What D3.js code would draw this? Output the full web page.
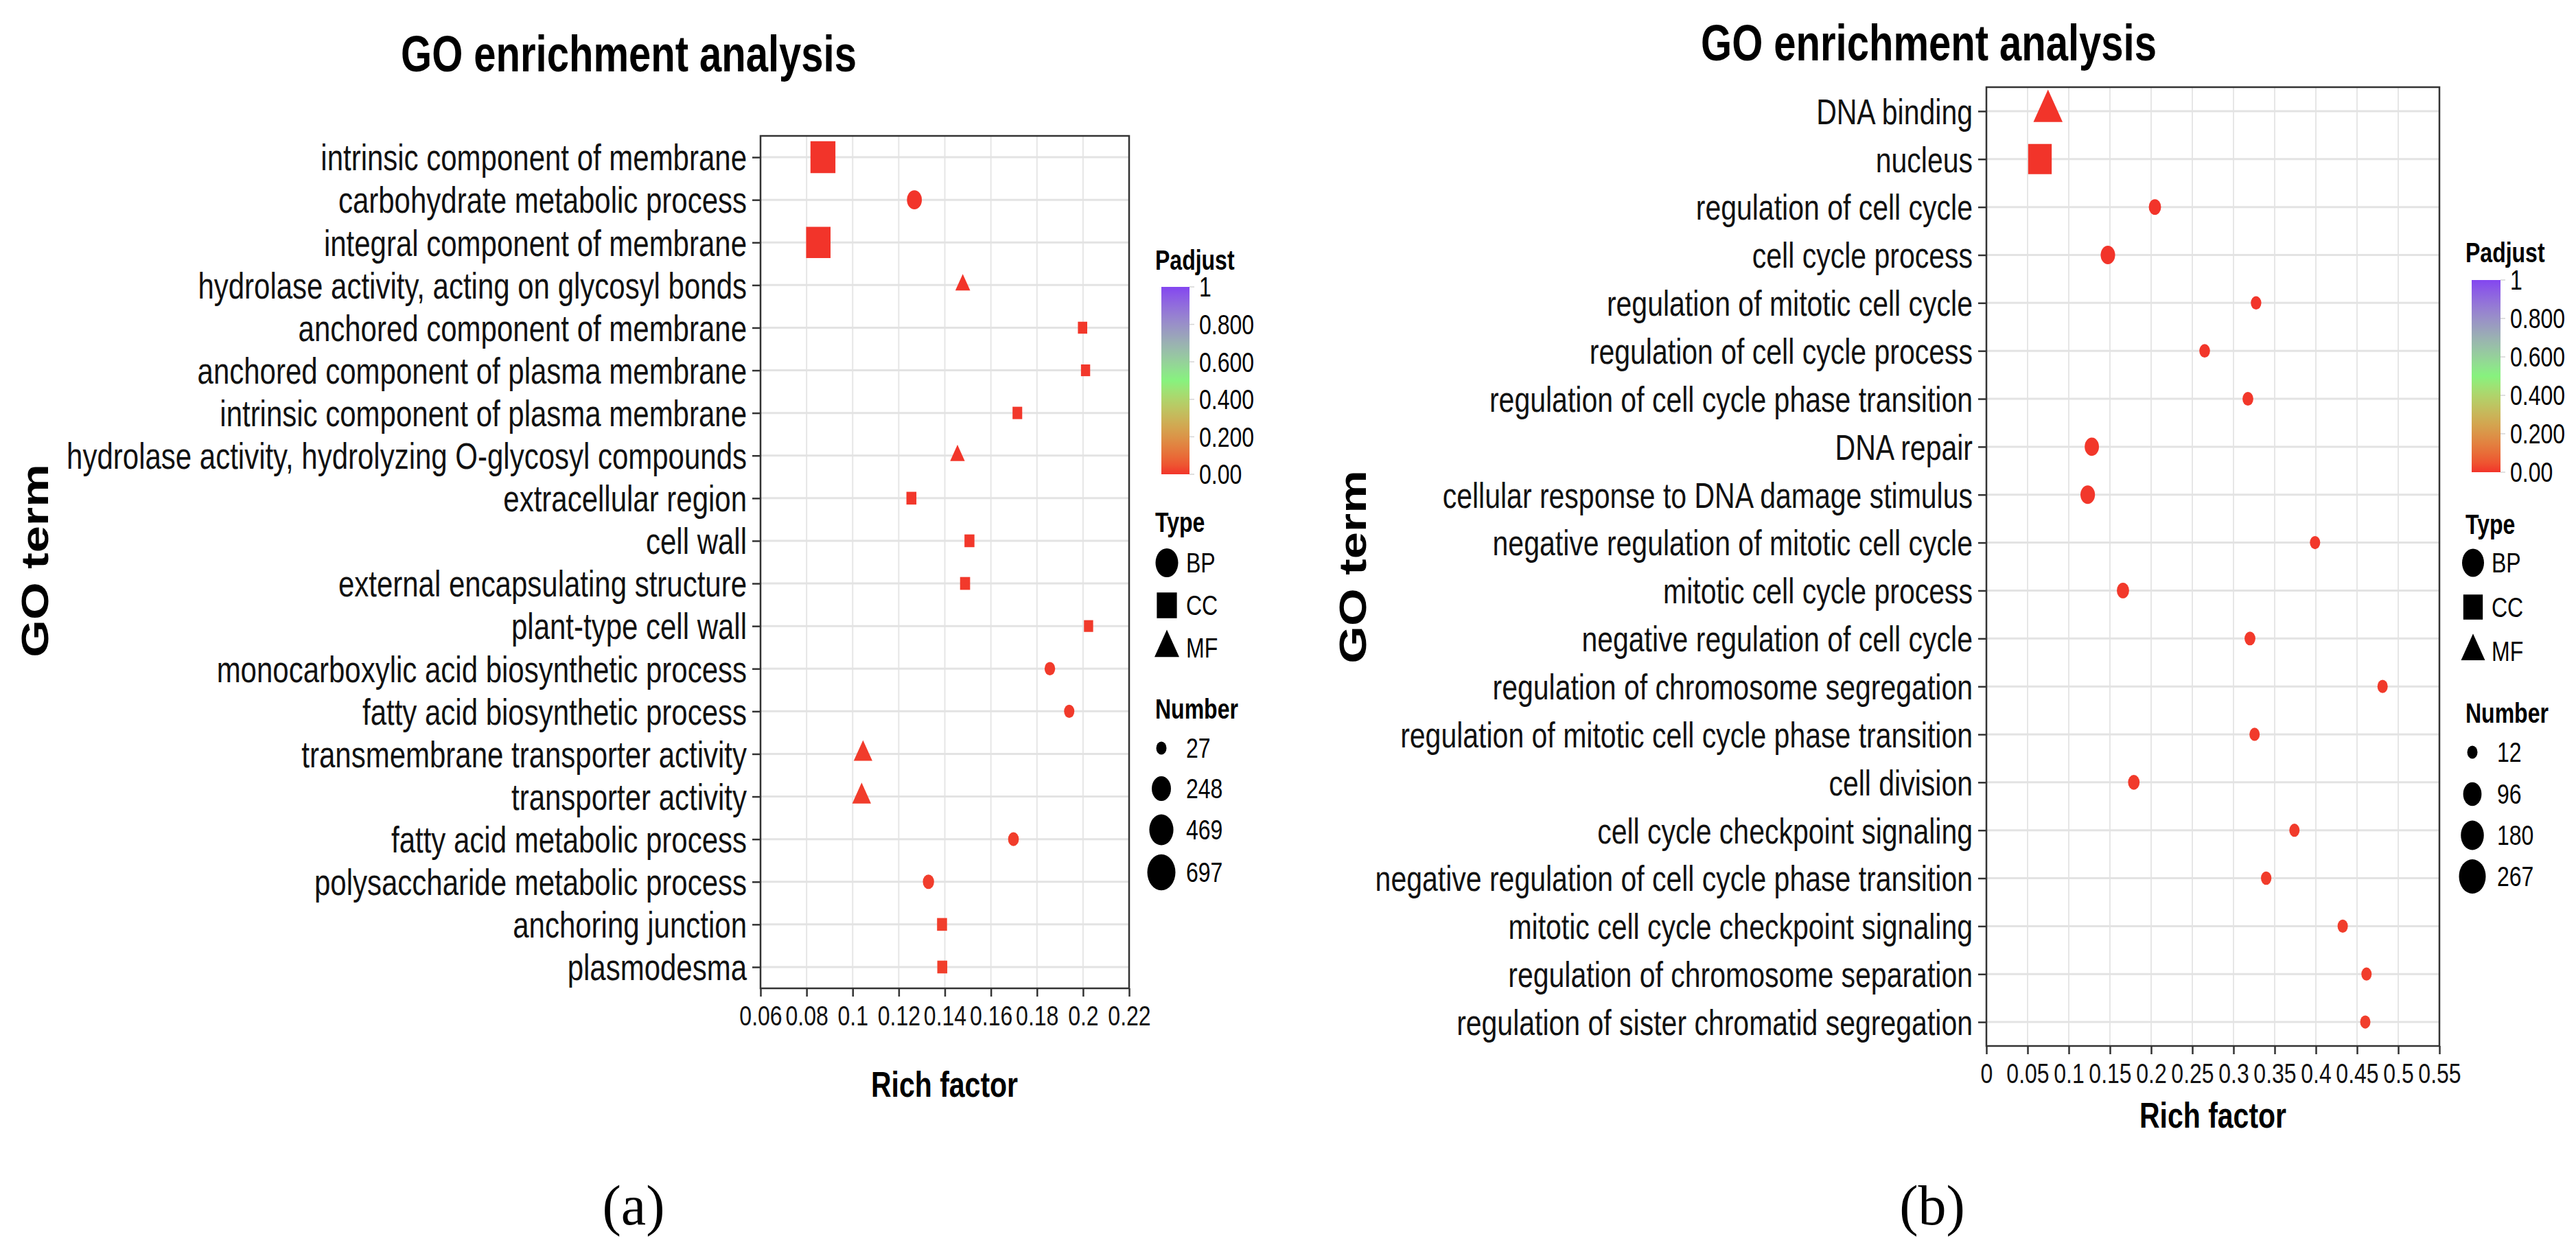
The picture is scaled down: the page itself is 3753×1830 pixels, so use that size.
<!DOCTYPE html>
<html><head><meta charset="utf-8">
<script src="https://cdn.jsdelivr.net/npm/d3@7"></script>
<style>html,body{margin:0;padding:0;background:#fff}svg{display:block}</style>
</head><body>
<svg id="c" width="3753" height="1830"></svg>
<script>
// ---------------- DATA ----------------
const termsA = ["intrinsic component of membrane","carbohydrate metabolic process","integral component of membrane","hydrolase activity, acting on glycosyl bonds","anchored component of membrane","anchored component of plasma membrane","intrinsic component of plasma membrane","hydrolase activity, hydrolyzing O-glycosyl compounds","extracellular region","cell wall","external encapsulating structure","plant-type cell wall","monocarboxylic acid biosynthetic process","fatty acid biosynthetic process","transmembrane transporter activity","transporter activity","fatty acid metabolic process","polysaccharide metabolic process","anchoring junction","plasmodesma"];
const richA = [0.0871,0.1268,0.0851,0.1478,0.1998,0.2011,0.1715,0.1455,0.1255,0.1507,0.1488,0.2024,0.1856,0.1940,0.1045,0.1039,0.1698,0.1329,0.1388,0.1389];
const typeA = ["CC","BP","CC","MF","CC","CC","CC","MF","CC","CC","CC","CC","BP","BP","MF","MF","BP","BP","CC","CC"];
const numberA = [697,114,660,84,30,28,35,80,40,40,41,28,30,27,176,180,33,40,40,40];
const padjA = [0.00001,0.0002,0.00002,0.001,0.003,0.004,0.005,0.002,0.004,0.005,0.006,0.007,0.008,0.008,0.009,0.01,0.011,0.012,0.013,0.014];
const xTicksA = [0.06,0.08,0.10,0.12,0.14,0.16,0.18,0.20,0.22];
const sizeBreaksA = [27,248,469,697];

const termsB = ["DNA binding","nucleus","regulation of cell cycle","cell cycle process","regulation of mitotic cell cycle","regulation of cell cycle process","regulation of cell cycle phase transition","DNA repair","cellular response to DNA damage stimulus","negative regulation of mitotic cell cycle","mitotic cell cycle process","negative regulation of cell cycle","regulation of chromosome segregation","regulation of mitotic cell cycle phase transition","cell division","cell cycle checkpoint signaling","negative regulation of cell cycle phase transition","mitotic cell cycle checkpoint signaling","regulation of chromosome separation","regulation of sister chromatid segregation"];
const richB = [0.0748,0.065,0.2046,0.1475,0.3274,0.265,0.3175,0.128,0.123,0.399,0.1658,0.320,0.481,0.3256,0.179,0.374,0.3397,0.4326,0.4615,0.4600];
const typeB = ["MF","CC","BP","BP","BP","BP","BP","BP","BP","BP","BP","BP","BP","BP","BP","BP","BP","BP","BP","BP"];
const numberB = [267,262,25,45,13,14,15,43,46,12,25,15,12,12,20,12,13,12,12,12];
const padjB = [0.00001,0.00002,0.0003,0.0004,0.001,0.002,0.003,0.003,0.004,0.005,0.006,0.006,0.007,0.008,0.008,0.009,0.01,0.011,0.012,0.013];
const xTicksB = [0,0.05,0.10,0.15,0.20,0.25,0.30,0.35,0.40,0.45,0.50,0.55];
const sizeBreaksB = [12,96,180,267];

const typeLevels = ["BP","CC","MF"];
const padjBreaks = [1,0.8,0.6,0.4,0.2,0];
const padjLabels = ["1","0.800","0.600","0.400","0.200","0.00"];
const titleText = "GO enrichment analysis";
const subLabels = ["(a)","(b)"];

// ---------------- STYLE ----------------
const SY = 1.28; // vertical stretch of the original figure
const FONT = "'Liberation Sans', Arial, Helvetica, sans-serif";
const SERIF = "'Liberation Serif', 'Times New Roman', serif";
const svg = d3.select('#c');
const color = d3.scaleLinear().domain([0,0.5,1]).range(["#F2342A","#87F27E","#8346F0"]).interpolate(d3.interpolateLab);
const symType = {BP:d3.symbolCircle, CC:d3.symbolSquare, MF:d3.symbolTriangle};
const areaFactor = {BP:1, CC:1, MF:0.655};
function symPath(type, diam){
  return d3.symbol().type(symType[type]).size(Math.PI*diam*diam/4*areaFactor[type])();
}
function txt(g, x, y, s, o){
  const t = g.append('text').attr('transform',`translate(${x},${y}) scale(1,${SY})`)
    .attr('font-family', o.family||FONT).attr('font-size', o.size)
    .attr('font-weight', o.bold?'bold':'normal').attr('text-anchor', o.anchor||'start')
    .attr('fill', o.fill||'#000').text(s);
  if (o.dy) t.attr('dy', o.dy);
  return t;
}

function drawPanel(c){
  const g = svg.append('g');
  const x = d3.scaleLinear().domain(c.xDomain).range([c.left, c.right]);
  const y = d3.scalePoint().domain(c.terms).range([c.top, c.bottom]).padding(0.5);
  const size = d3.scaleSqrt().domain(c.sizeDomain).range(c.sizeRange);

  // grid
  g.append('g').selectAll('line').data(c.xTicks).join('line')
    .attr('x1',d=>x(d)).attr('x2',d=>x(d)).attr('y1',c.top).attr('y2',c.bottom)
    .attr('stroke','#E6E6E6').attr('stroke-width',2);
  g.append('g').selectAll('line').data(c.terms).join('line')
    .attr('x1',c.left).attr('x2',c.right).attr('y1',d=>y(d)).attr('y2',d=>y(d))
    .attr('stroke','#E3E3E3').attr('stroke-width',3);

  // points
  g.append('g').selectAll('path').data(d3.range(c.terms.length)).join('path')
    .attr('d', i=>symPath(c.types[i], size(c.numbers[i])))
    .attr('transform', i=>`translate(${x(c.rich[i])},${y(c.terms[i])}) scale(1,${SY})`)
    .attr('fill', i=>color(c.padj[i]));

  // border
  g.append('rect').attr('x',c.left).attr('y',c.top).attr('width',c.right-c.left).attr('height',c.bottom-c.top)
    .attr('fill','none').attr('stroke','#333').attr('stroke-width',2.5);

  // x axis
  const gx = g.append('g').attr('transform',`translate(0,${c.bottom})`)
    .call(d3.axisBottom(x).tickValues(c.xTicks).tickFormat(d=>String(+d.toFixed(2))).tickSize(12).tickSizeOuter(0));
  gx.select('.domain').remove();
  gx.selectAll('.tick line').attr('stroke','#333').attr('stroke-width',2.5);
  gx.selectAll('.tick text').attr('y', 54/SY).attr('dy',null).attr('transform',`scale(1,${SY})`)
    .attr('font-family',FONT).attr('font-size',32).attr('fill','#111');

  // y axis
  const gy = g.append('g').attr('transform',`translate(${c.left},0)`)
    .call(d3.axisLeft(y).tickSize(12).tickPadding(8).tickSizeOuter(0));
  gy.select('.domain').remove();
  gy.selectAll('.tick line').attr('stroke','#333').attr('stroke-width',2.5);
  gy.selectAll('.tick text').attr('dy','0.35em').attr('transform',`scale(1,${SY})`)
    .attr('font-family',FONT).attr('font-size',c.labelSize).attr('fill','#111');

  // titles
  txt(g, c.titleX, c.titleY, titleText, {size:58, bold:true, anchor:'middle'});
  txt(g, c.xTitleX, c.xTitleY, "Rich factor", {size:41, bold:true, anchor:'middle'});
  g.append('text').attr('transform',`translate(${c.yTitleX},${c.yTitleY}) scale(1,${SY}) rotate(-90)`)
    .attr('font-family',FONT).attr('font-size',55).attr('font-weight','bold').attr('text-anchor','middle')
    .attr('fill','#000').text("GO term");

  // legend: Padjust colour bar
  const L = c.leg;
  txt(g, L.x, L.padjTitleY, "Padjust", {size:32, bold:true});
  const gid = 'grad'+c.id;
  const grad = svg.append('defs').append('linearGradient').attr('id',gid)
    .attr('x1',0).attr('y1',1).attr('x2',0).attr('y2',0);
  grad.selectAll('stop').data(d3.range(0,1.0001,0.05)).join('stop')
    .attr('offset',d=>d).attr('stop-color',d=>color(d));
  g.append('rect').attr('x',L.barX).attr('y',L.barTop).attr('width',L.barW).attr('height',L.barBottom-L.barTop)
    .attr('fill',`url(#${gid})`);
  const cb = d3.scaleLinear().domain([0,1]).range([L.barBottom, L.barTop]);
  g.append('g').selectAll('line').data(padjBreaks).join('line')
    .attr('x1',L.barX+L.barW).attr('x2',L.barX+L.barW+7).attr('y1',d=>cb(d)).attr('y2',d=>cb(d))
    .attr('stroke','#D4D4D4').attr('stroke-width',1.5);
  padjBreaks.forEach((b,i)=>txt(g, L.barX+L.barW+14, cb(b), padjLabels[i], {size:32, dy:'0.35em'}));

  // legend: Type
  txt(g, L.x, L.typeTitleY, "Type", {size:32, bold:true});
  typeLevels.forEach((t,i)=>{
    const yy = L.typeY0 + i*L.typeStep;
    g.append('path').attr('d', symPath(t, L.typeD)).attr('transform',`translate(${L.keyX},${yy}) scale(1,${SY})`).attr('fill','#000');
    txt(g, L.typeLabelX, yy, t, {size:32, dy:'0.35em'});
  });

  // legend: Number
  txt(g, L.x, L.numTitleY, "Number", {size:32, bold:true});
  c.sizeBreaks.forEach((b,i)=>{
    const yy = L.numY[i];
    g.append('path').attr('d', symPath('BP', size(b))).attr('transform',`translate(${L.numKeyX},${yy}) scale(1,${SY})`).attr('fill','#000');
    txt(g, L.numLabelX, yy, String(b), {size:32, dy:'0.35em'});
  });

  // sub-figure label
  g.append('text').attr('x',c.subX).attr('y',1784).attr('text-anchor','middle')
    .attr('font-family',SERIF).attr('font-size',82).attr('fill','#000').text(c.sub);
}

drawPanel({
  id:'A', terms:termsA, rich:richA, types:typeA, numbers:numberA, padj:padjA,
  xDomain:[0.06,0.22], xTicks:xTicksA, sizeDomain:[27,697], sizeRange:[15,41], sizeBreaks:sizeBreaksA,
  left:1108, right:1645, top:198, bottom:1440, labelSize:42,
  titleX:916, titleY:104, xTitleX:1376, xTitleY:1598, yTitleX:70, yTitleY:817,
  sub:subLabels[0], subX:923,
  leg:{x:1683, padjTitleY:393, barX:1692, barW:41, barTop:418, barBottom:691,
       typeTitleY:775, typeY0:820, typeStep:62, keyX:1700, typeD:33, typeLabelX:1728,
       numTitleY:1047, numY:[1090,1149,1209,1271], numKeyX:1692, numLabelX:1728}
});
drawPanel({
  id:'B', terms:termsB, rich:richB, types:typeB, numbers:numberB, padj:padjB,
  xDomain:[0,0.55], xTicks:xTicksB, sizeDomain:[12,267], sizeRange:[15,39], sizeBreaks:sizeBreaksB,
  left:2894, right:3554, top:127, bottom:1524, labelSize:41,
  titleX:2810, titleY:88, xTitleX:3224, xTitleY:1643, yTitleX:1990, yTitleY:826,
  sub:subLabels[1], subX:2815,
  leg:{x:3592, padjTitleY:382, barX:3601, barW:42, barTop:408, barBottom:688,
       typeTitleY:778, typeY0:820, typeStep:64.5, keyX:3603, typeD:32, typeLabelX:3630,
       numTitleY:1053, numY:[1096,1157,1217,1277], numKeyX:3602, numLabelX:3638}
});
</script>
</body></html>
